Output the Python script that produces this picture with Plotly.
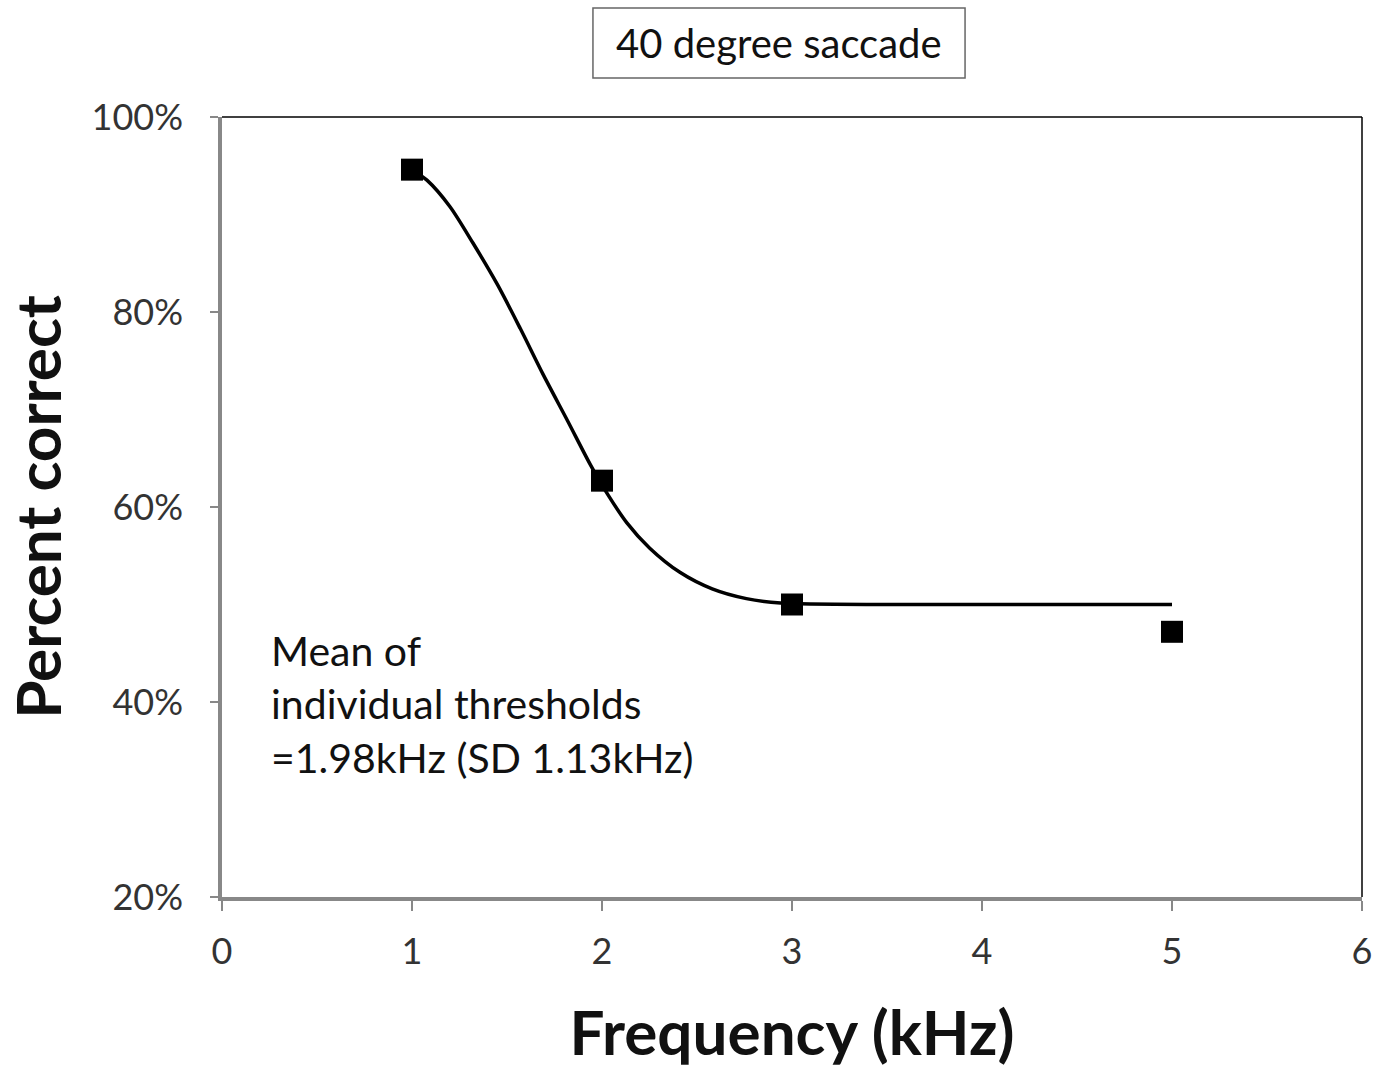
import plotly.graph_objects as go

# Observed data (frequency in kHz, percent correct)
freq_obs = [1, 2, 3, 5]
pct_obs = [94.6, 62.7, 50.0, 47.2]

# Fitted curve
freq_fit = [1.0, 1.08, 1.20, 1.32, 1.45, 1.57, 1.69, 1.82, 1.94, 2.03, 2.13, 2.25, 2.41, 2.58, 2.76, 2.94, 3.5, 4.0, 5.0]
pct_fit = [94.6, 93.5, 90.8, 87.1, 82.8, 78.3, 73.6, 68.8, 64.3, 61.3, 58.4, 55.8, 53.3, 51.6, 50.6, 50.15, 50.0, 50.0, 50.0]

x_ticks = [0, 1, 2, 3, 4, 5, 6]
y_ticks = [20, 40, 60, 80, 100]
y_tick_labels = ["20%", "40%", "60%", "80%", "100%"]

title_text = "40 degree saccade"
note_text = "Mean of<br>individual thresholds<br>=1.98kHz (SD 1.13kHz)"

FONT = "Lato"

fig = go.Figure()
fig.add_trace(go.Scatter(x=freq_fit, y=pct_fit, mode="lines",
                         line=dict(color="black", width=3.5, shape="spline", smoothing=0.8),
                         showlegend=False, hoverinfo="skip"))
fig.add_trace(go.Scatter(x=freq_obs, y=pct_obs, mode="markers",
                         marker=dict(symbol="square", size=22, color="black"),
                         showlegend=False))

fig.update_layout(
    width=1375, height=1068,
    margin=dict(l=222, r=13, t=117, b=171, autoexpand=False),
    plot_bgcolor="white", paper_bgcolor="white",
    font=dict(family=FONT, color="#222"),
    xaxis=dict(range=[0, 6], tickvals=x_ticks, showgrid=False, zeroline=False,
               showline=True, linecolor="#888", linewidth=3.5,
               ticks="outside", ticklen=10, tickcolor="#888", tickwidth=1.5,
               ticklabelstandoff=10,
               tickfont=dict(size=36, family=FONT, color="#333"),
               title=dict(text="<b>Frequency (kHz)</b>", font=dict(size=62, family=FONT, color="#111"), standoff=43)),
    yaxis=dict(range=[20, 100], tickvals=y_ticks, ticktext=y_tick_labels, showgrid=False, zeroline=False,
               showline=True, linecolor="#888", linewidth=3.5,
               ticks="outside", ticklen=8, tickcolor="#888", tickwidth=1.5,
               ticklabelstandoff=20,
               tickfont=dict(size=36, family=FONT, color="#333"),
               title=dict(text="<b>Percent correct</b>", font=dict(size=62, family=FONT, color="#111"), standoff=47)),
    shapes=[
        dict(type="line", xref="paper", yref="paper", x0=0, x1=1, y0=1, y1=1, line=dict(color="black", width=1.5)),
        dict(type="line", xref="paper", yref="paper", x0=1, x1=1, y0=0, y1=1, line=dict(color="black", width=1.5)),
        dict(type="rect", xref="paper", yref="paper", x0=0.3254, x1=0.6518, y0=1.05, y1=1.1397,
             line=dict(color="#666", width=1.5), fillcolor="white"),
    ],
    annotations=[
        dict(text=title_text, xref="paper", yref="paper", x=(779 - 222) / 1140, y=1 + (117 - 43) / 780,
             showarrow=False, font=dict(size=40, family=FONT, color="#111"),
             xanchor="center", yanchor="middle"),
        dict(text=note_text, x=0.245, y=48.0, xref="x", yref="y", showarrow=False, align="left",
             xanchor="left", yanchor="top", font=dict(size=41, family=FONT, color="#111")),
    ],
)

fig.write_html("out.html", config={"displayModeBar": False},
               post_script="document.body.style.margin='0px';document.body.style.overflow='hidden';")
